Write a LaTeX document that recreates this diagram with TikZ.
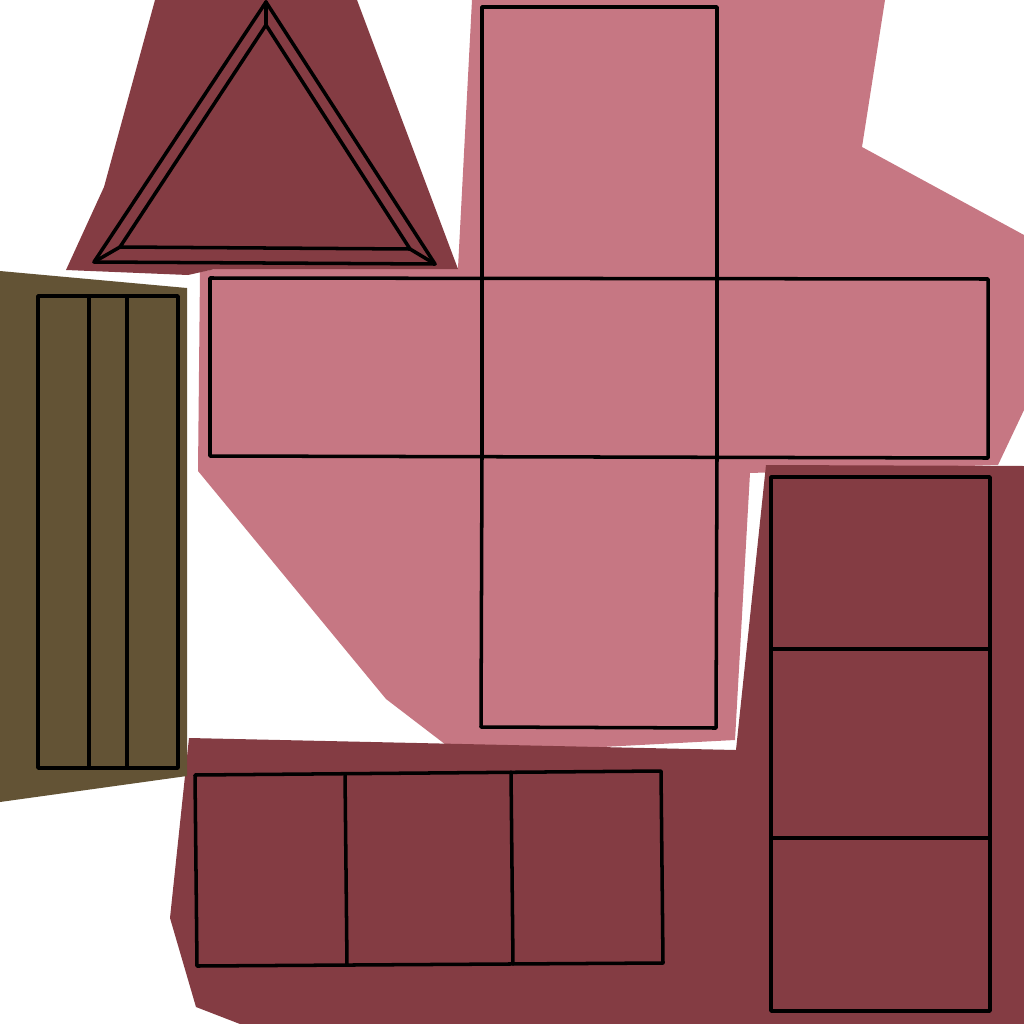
\documentclass[tikz,border=0pt]{standalone}
\usepackage{tikz}
\definecolor{wine}{HTML}{843C43}
\definecolor{rose}{HTML}{C67783}
\definecolor{olive}{HTML}{635335}
\tikzset{edge/.style={draw=black,line width=1pt,line join=round,line cap=round}}
\begin{document}
\begin{tikzpicture}[x=0.01cm,y=-0.01cm]
\useasboundingbox (0,0) rectangle (1024,1024);
% background blobs
\fill[rose] (472,0) -- (885,0) -- (862,147) -- (1024,235) -- (1024,410) -- (998,465) -- (750,473) -- (735,740) -- (545,750) -- (450,748) -- (386,699) -- (198,471) -- (200,272) -- (215,269) -- (458,268) -- cycle;
\fill[wine] (155,0) -- (357,0) -- (458,269) -- (215,269) -- (188,275) -- (66,270) -- (104,187) -- cycle;
\fill[wine] (766,465) -- (1024,466) -- (1024,1024) -- (240,1024) -- (196,1007) -- (170,918) -- (189,738) -- (736,750) -- cycle;
\fill[olive] (0,271) -- (187,288) -- (187,776) -- (0,802) -- cycle;
% triangle
\draw[edge] (94,262) -- (266,2) -- (435,264) -- cycle;
\draw[edge] (120,247) -- (266,25) -- (410,249) -- cycle;
\draw[edge] (266,2) -- (266,25);
\draw[edge] (94,262) -- (120,247);
\draw[edge] (435,264) -- (410,249);
% cross net
\draw[edge] (482,278) -- (482,7) -- (717,7) -- (717,278);
\draw[edge] (210,278) -- (988,279) -- (988,458) -- (210,456) -- cycle;
\draw[edge] (482,278) -- (482,456);
\draw[edge] (717,278) -- (717,457);
\draw[edge] (482,456) -- (481,727) -- (716,728) -- (717,457);
% olive box
\draw[edge] (38,296) rectangle (178,768);
\draw[edge] (89,296) -- (89,768);
\draw[edge] (127,296) -- (127,768);
% bottom box
\draw[edge] (195,775) -- (661,771) -- (663,963) -- (197,966) -- cycle;
\draw[edge] (345,774) -- (347,965);
\draw[edge] (511,772) -- (513,964);
% right box
\draw[edge] (771,477) rectangle (990,1011);
\draw[edge] (771,649) -- (990,649);
\draw[edge] (771,838) -- (990,838);
\end{tikzpicture}
\end{document}
